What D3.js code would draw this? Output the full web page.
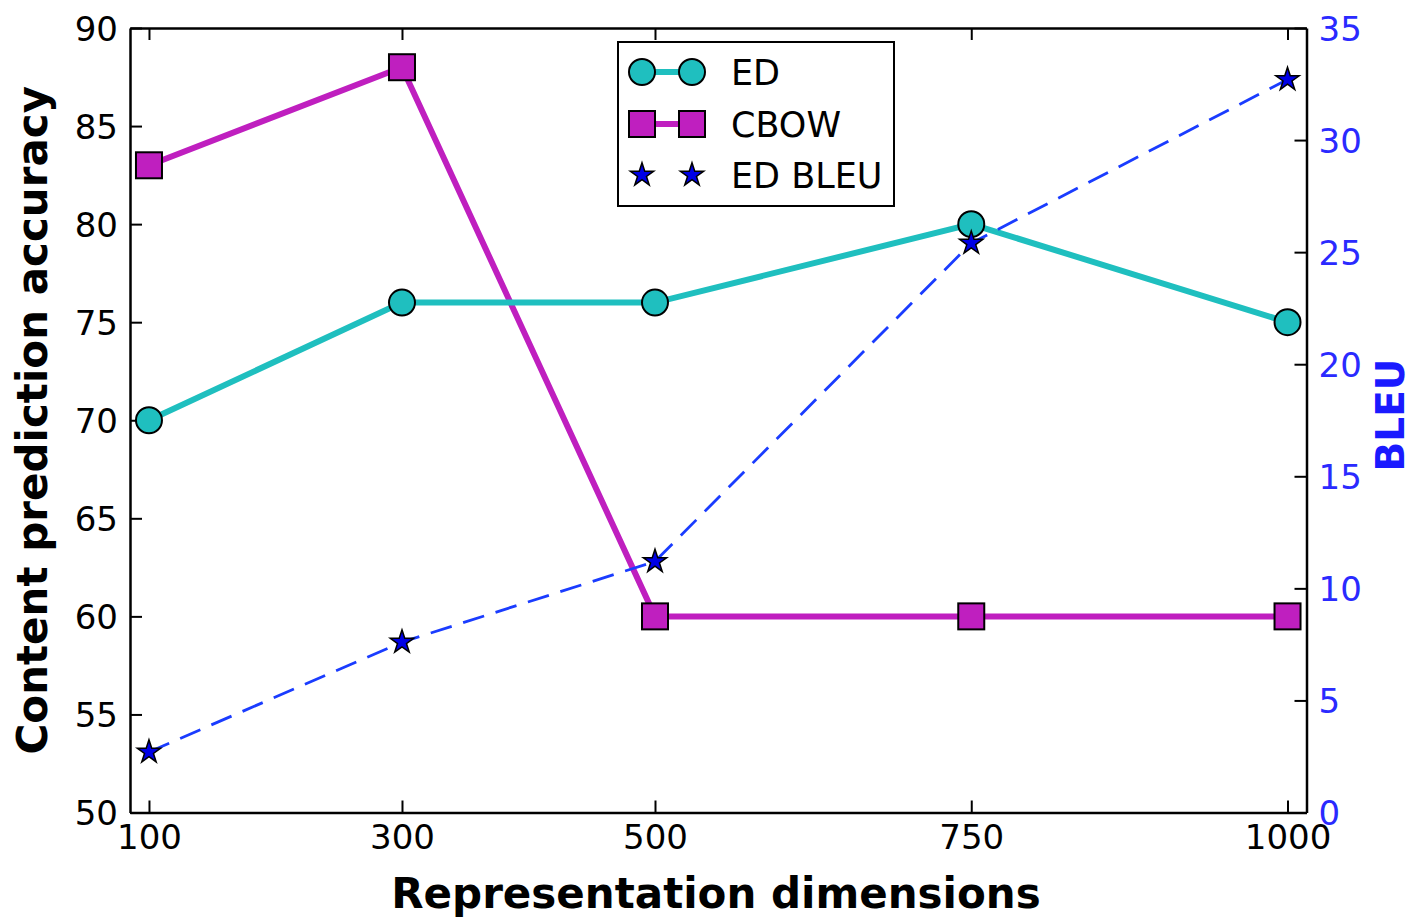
<!DOCTYPE html>
<html><head><meta charset="utf-8">
<script src="https://cdn.jsdelivr.net/npm/d3@7"></script>
<style>body{margin:0;background:#fff}</style>
</head><body>
<svg id="c" width="1414" height="918"></svg>
<script>
const dims = [100, 300, 500, 750, 1000];
const edAcc = [70, 76, 76, 80, 75];
const cbowAcc = [83, 88, 60, 60, 60];
const edBleu = [2.7, 7.6, 11.2, 25.4, 32.7];
const leftTicks = [50, 55, 60, 65, 70, 75, 80, 85, 90];
const rightTicks = [0, 5, 10, 15, 20, 25, 30, 35];
const legendLabels = ["ED", "CBOW", "ED BLEU"];

const L = 130, R = 1306.5, T = 28, B = 812.5;
const svg = d3.select("#c");
const font = "DejaVu Sans";
const x = d3.scaleLinear().domain([85, 1015]).range([L, R]);
const yL = d3.scaleLinear().domain([50, 90]).range([B, T]);
const yR = d3.scaleLinear().domain([0, 35]).range([B, T]);

const tl = 12;
const tf = 34;
// axes
const gB = svg.append("g").attr("transform", `translate(0,${B})`)
  .call(d3.axisBottom(x).tickValues(dims).tickFormat(d3.format("d")).tickSizeInner(-tl).tickSizeOuter(0).tickPadding(12));
const gT = svg.append("g").attr("transform", `translate(0,${T})`)
  .call(d3.axisTop(x).tickValues(dims).tickSizeInner(-tl).tickSizeOuter(0).tickFormat(""));
const gL = svg.append("g").attr("transform", `translate(${L},0)`)
  .call(d3.axisLeft(yL).tickValues(leftTicks).tickSizeInner(-tl).tickSizeOuter(0).tickPadding(12));
const gR = svg.append("g").attr("transform", `translate(${R},0)`)
  .call(d3.axisRight(yR).tickValues(rightTicks).tickSizeInner(-tl).tickSizeOuter(0).tickPadding(12));
[gB, gT, gL, gR].forEach(g => {
  g.selectAll("path.domain").attr("stroke", "#000").attr("stroke-width", 2.5);
  g.selectAll(".tick line").attr("stroke", "#000").attr("stroke-width", 2);
  g.selectAll("text").attr("font-family", font).attr("font-size", tf).attr("fill", "#000");
});
gL.selectAll("text").attr("dy", "0.36em");
gR.selectAll("text").attr("fill", "#2a2aff").attr("dy", "0.36em");

// data lines
const ptsED = dims.map((d, i) => [x(d), yL(edAcc[i])]);
const ptsCB = dims.map((d, i) => [x(d), yL(cbowAcc[i])]);
const ptsBL = dims.map((d, i) => [x(d), yR(edBleu[i])]);
const line = d3.line();

svg.append("path").attr("d", line(ptsCB)).attr("fill", "none")
  .attr("stroke", "#bf1fbf").attr("stroke-width", 6);
svg.append("path").attr("d", line(ptsED)).attr("fill", "none")
  .attr("stroke", "#1fbfbf").attr("stroke-width", 6);
svg.append("path").attr("d", line(ptsBL)).attr("fill", "none")
  .attr("stroke", "#1a3cff").attr("stroke-width", 2.8).attr("stroke-dasharray", "22,12");

const star = d3.symbol().type(d3.symbolStar).size(170);
const sq = 26;
function drawCircle(g, p) {
  g.append("circle").attr("cx", p[0]).attr("cy", p[1]).attr("r", 13)
    .attr("fill", "#1fbfbf").attr("stroke", "#000").attr("stroke-width", 2);
}
function drawSquare(g, p) {
  g.append("rect").attr("x", p[0] - sq / 2).attr("y", p[1] - sq / 2).attr("width", sq).attr("height", sq)
    .attr("fill", "#bf1fbf").attr("stroke", "#000").attr("stroke-width", 2);
}
function drawStar(g, p) {
  g.append("path").attr("d", star).attr("transform", `translate(${p[0]},${p[1]})`)
    .attr("fill", "#0000e6").attr("stroke", "#000").attr("stroke-width", 1.5);
}
const gm = svg.append("g");
ptsCB.forEach(p => drawSquare(gm, p));
ptsED.forEach(p => drawCircle(gm, p));
ptsBL.forEach(p => drawStar(gm, p));

// axis titles
svg.append("text").attr("x", 716).attr("y", 908).attr("text-anchor", "middle")
  .attr("font-family", font).attr("font-weight", "bold").attr("font-size", 42).text("Representation dimensions");
svg.append("text").attr("transform", `translate(47,${(T + B) / 2}) rotate(-90)`).attr("text-anchor", "middle")
  .attr("font-family", font).attr("font-weight", "bold").attr("font-size", 42).text("Content prediction accuracy");
svg.append("text").attr("transform", `translate(1404,415) rotate(-90)`).attr("text-anchor", "middle")
  .attr("font-family", font).attr("font-weight", "bold").attr("font-size", 39).attr("fill", "#1a1aff").text("BLEU");

// legend
const lg = svg.append("g");
lg.append("rect").attr("x", 618).attr("y", 42).attr("width", 276).attr("height", 164)
  .attr("fill", "#fff").attr("stroke", "#000").attr("stroke-width", 2);
const rows = [72, 124, 175];
const mx1 = 642, mx2 = 692;
lg.append("line").attr("x1", mx1).attr("x2", mx2).attr("y1", rows[0]).attr("y2", rows[0]).attr("stroke", "#1fbfbf").attr("stroke-width", 6);
drawCircle(lg, [mx1, rows[0]]); drawCircle(lg, [mx2, rows[0]]);
lg.append("line").attr("x1", mx1).attr("x2", mx2).attr("y1", rows[1]).attr("y2", rows[1]).attr("stroke", "#bf1fbf").attr("stroke-width", 6);
drawSquare(lg, [mx1, rows[1]]); drawSquare(lg, [mx2, rows[1]]);
drawStar(lg, [mx1, rows[2]]); drawStar(lg, [mx2, rows[2]]);
legendLabels.forEach((t, i) => {
  lg.append("text").attr("x", 731).attr("y", rows[i]).attr("dy", "0.36em")
    .attr("font-family", font).attr("font-size", 35).text(t);
});
</script>
</body></html>
